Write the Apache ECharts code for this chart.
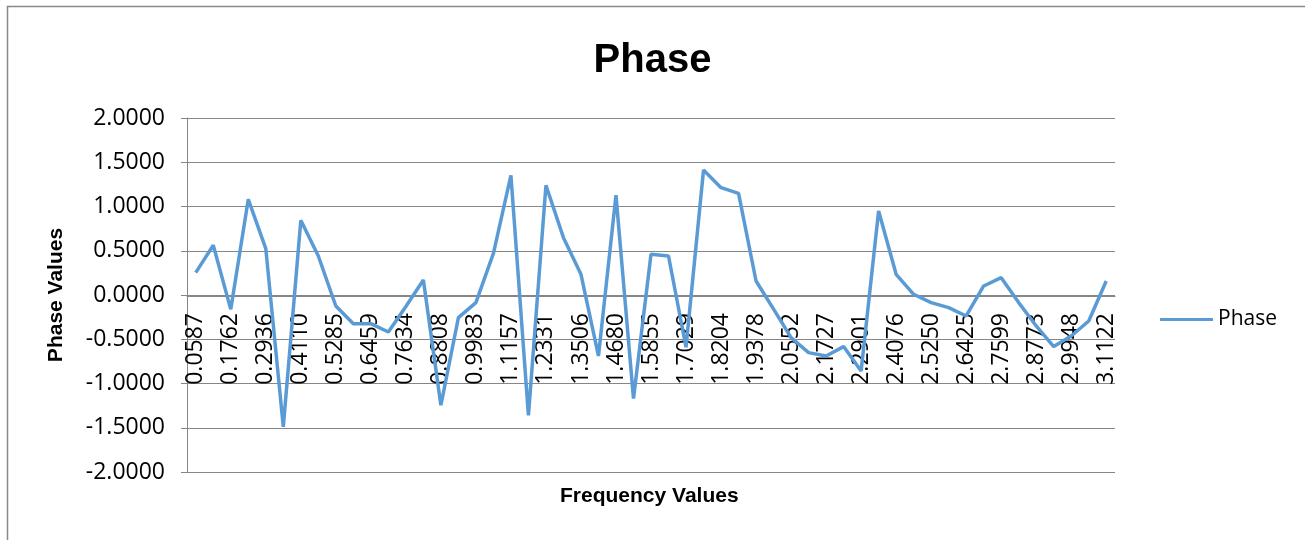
<!DOCTYPE html>
<html>
<head>
<meta charset="utf-8">
<script src="https://cdn.jsdelivr.net/npm/echarts@6/dist/echarts.min.js"></script>
<style>
  html, body { margin: 0; padding: 0; background: #fff; }
  #chart { width: 1305px; height: 540px; }
</style>
</head>
<body>
<div id="chart"></div>
<script>
// frequency values (category axis)
const frequencies = [
  '0.0587', '0.1174', '0.1762', '0.2349', '0.2936', '0.3523', '0.4110', '0.4698', '0.5285', '0.5872',
  '0.6459', '0.7047', '0.7634', '0.8221', '0.8808', '0.9395', '0.9983', '1.0570', '1.1157', '1.1744',
  '1.2331', '1.2919', '1.3506', '1.4093', '1.4680', '1.5268', '1.5855', '1.6442', '1.7029', '1.7616',
  '1.8204', '1.8791', '1.9378', '1.9965', '2.0552', '2.1140', '2.1727', '2.2314', '2.2901', '2.3489',
  '2.4076', '2.4663', '2.5250', '2.5837', '2.6425', '2.7012', '2.7599', '2.8186', '2.8773', '2.9361',
  '2.9948', '3.0535', '3.1122'
];

// phase values
const phase = [
  0.253, 0.562, -0.162, 1.081, 0.524, -1.490, 0.844, 0.441, -0.124, -0.324,
  -0.324, -0.418, -0.130, 0.170, -1.246, -0.256, -0.086, 0.470, 1.353, -1.359,
  1.240, 0.648, 0.234, -0.689, 1.127, -1.170, 0.460, 0.441, -0.590, 1.412,
  1.213, 1.149, 0.158, -0.160, -0.482, -0.651, -0.689, -0.583, -0.859, 0.949,
  0.234, 0.008, -0.086, -0.143, -0.237, 0.102, 0.196, -0.086, -0.350, -0.583,
  -0.463, -0.294, 0.158
];

const font = 'Open Sans';
const chart = echarts.init(document.getElementById('chart'));

chart.setOption({
  animation: false,
  title: [{
    text: 'Phase',
    left: 'center',
    top: 36,
    textStyle: { fontFamily: 'Liberation Sans', fontWeight: 'bold', fontSize: 40, color: '#000' }
  }, {
    text: 'Frequency Values',
    left: 555,
    top: 481,
    textStyle: { fontFamily: 'Liberation Sans', fontWeight: 'bold', fontSize: 21, color: '#000' }
  }],
  legend: {
    data: ['Phase'],
    left: 1155,
    top: 304,
    icon: 'rect',
    itemWidth: 53,
    itemHeight: 3,
    itemGap: 6,
    textStyle: { fontFamily: font, fontSize: 21, color: '#000' }
  },
  grid: { left: 187, right: 190, top: 118, bottom: 68, containLabel: false, outerBoundsMode: 'none' },
  xAxis: {
    type: 'category',
    data: frequencies,
    boundaryGap: true,
    offset: -176,
    axisLine: { onZero: false, lineStyle: { color: '#868686', width: 1 } },
    axisTick: { show: false },
    axisLabel: {
      interval: 1,
      rotate: 90,
      margin: 17,
      fontFamily: font,
      fontSize: 23,
      color: '#000'
    },
    splitLine: { show: false }
  },
  yAxis: {
    type: 'value',
    name: 'Phase Values',
    nameLocation: 'middle',
    nameGap: 120,
    nameTextStyle: { fontFamily: 'Liberation Sans', fontWeight: 'bold', fontSize: 21, color: '#000' },
    min: -2,
    max: 2,
    interval: 0.5,
    axisLine: { show: true, lineStyle: { color: '#868686', width: 1 } },
    axisTick: { show: true, length: 6, lineStyle: { color: '#868686' } },
    axisLabel: {
      margin: 22,
      fontFamily: font,
      fontSize: 23,
      color: '#000',
      formatter: v => v.toFixed(4)
    },
    splitLine: { show: true, lineStyle: { color: '#868686', width: 1 } }
  },
  series: [{
    name: 'Phase',
    type: 'line',
    data: phase,
    symbol: 'none',
    lineStyle: { color: '#5B9BD5', width: 3.5 },
    itemStyle: { color: '#5B9BD5' }
  }],
  graphic: [{
    type: 'polyline',
    shape: { points: [[7.5, 540], [7.5, 6.5], [1305, 6.5]] },
    style: { stroke: '#888', lineWidth: 1.5, fill: null },
    silent: true
  }]
});
</script>
</body>
</html>
